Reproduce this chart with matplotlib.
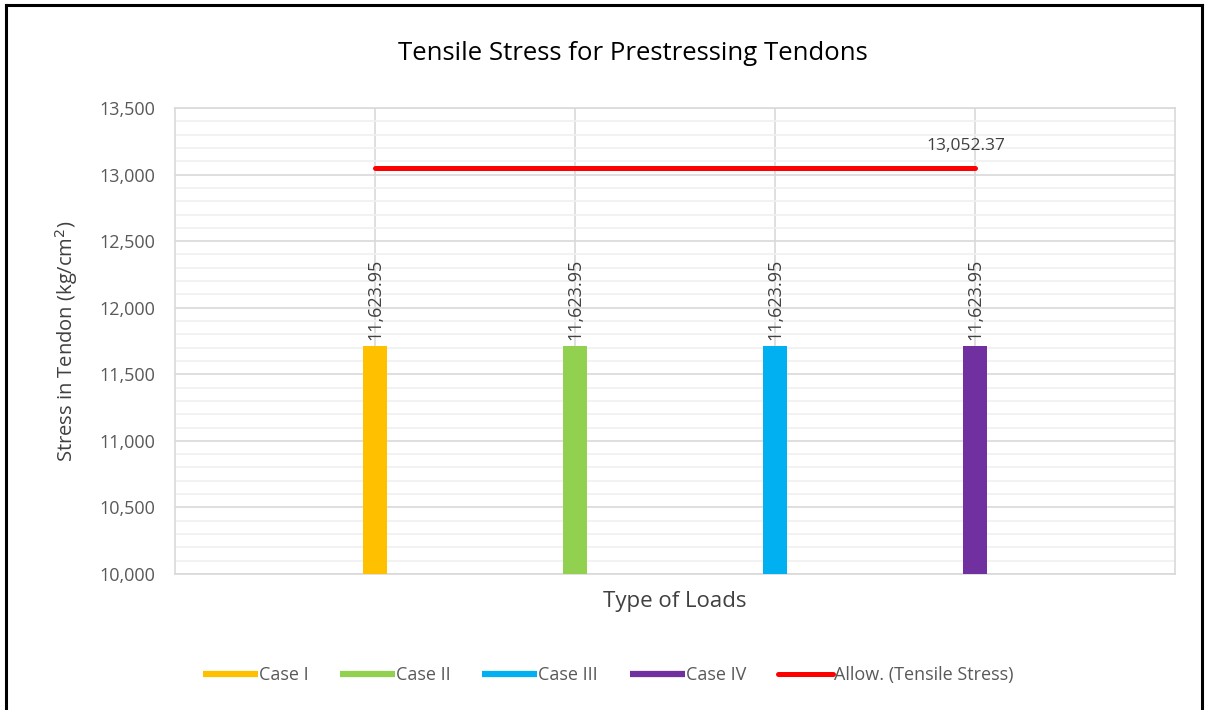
import matplotlib
matplotlib.use("Agg")
import matplotlib.pyplot as plt
from matplotlib.lines import Line2D
from matplotlib.ticker import MultipleLocator, FuncFormatter

plt.rcParams['font.family'] = ['Open Sans', 'DejaVu Sans']

cases = ['Case I', 'Case II', 'Case III', 'Case IV']
stress = [11715, 11715, 11715, 11715]
stress_labels = ['11,623.95', '11,623.95', '11,623.95', '11,623.95']
colors = ['#FFC000', '#92D050', '#00B0F0', '#7030A0']
allow = 13052.37
allow_label = '13,052.37'

W, H = 1205, 710
fig = plt.figure(figsize=(W / 100, H / 100), dpi=100)
ax = fig.add_axes([175 / W, 1 - 574 / H, 1000 / W, 466 / H])

x = list(range(1, len(cases) + 1))
for xi, v, lab, c, name in zip(x, stress, stress_labels, colors, cases):
    ax.bar(xi, v - 10000, bottom=10000, width=0.12, color=c, zorder=3, label=name)
    ax.text(xi, v + 40, lab, rotation=90, ha='center', va='bottom',
            fontsize=13, color='#404040', zorder=4)

ax.plot([x[0], x[-1]], [allow, allow], color='#FF0000', lw=3.6,
        solid_capstyle='round', zorder=4)
ax.text(x[-1] - 0.045, allow + 100, allow_label, ha='center', va='bottom',
        fontsize=12.5, color='#404040')

ax.set_xlim(0, 5)
ax.set_ylim(10000, 13500)
ax.set_xticks(x)
ax.tick_params(axis='x', length=0, labelbottom=False)
ax.tick_params(axis='y', length=0, labelsize=13, labelcolor='#595959', pad=14)
ax.yaxis.set_major_locator(MultipleLocator(500))
ax.yaxis.set_minor_locator(MultipleLocator(100))
ax.yaxis.set_major_formatter(FuncFormatter(lambda v, p: f'{v:,.0f}'))
ax.tick_params(axis='y', which='minor', length=0)
ax.grid(axis='y', which='major', color='#D9D9D9', lw=1.2, zorder=0)
ax.grid(axis='y', which='minor', color='#F0F0F0', lw=1.2, zorder=0)
ax.grid(axis='x', which='major', color='#D9D9D9', lw=1.2, zorder=0)
for s in ax.spines.values():
    s.set_color('#D9D9D9')
    s.set_linewidth(1.2)

ax.set_ylabel('Stress in Tendon (kg/cm$^2$)', fontsize=14.5, color='#404040', labelpad=14)
ax.set_xlabel('Type of Loads', fontsize=16, color='#404040', labelpad=12)
fig.text(0.525, 1 - 53 / H, 'Tensile Stress for Prestressing Tendons',
         ha='center', va='center', fontsize=18.5, color='#000000')

handles = [Line2D([], [], color=c, lw=4.5, solid_capstyle='butt') for c in colors]
handles.append(Line2D([], [], color='#FF0000', lw=3.6, solid_capstyle='round'))
names = cases + ['Allow. (Tensile Stress)']
fig.legend(handles, names, loc='center', bbox_to_anchor=(608 / W, 1 - 675 / H),
           ncol=5, frameon=False, fontsize=13, handlelength=3.05,
           handletextpad=0.05, columnspacing=1.75, labelcolor='#595959')

# outer frame (left, top, right)
lw = 2.2
fig.add_artist(Line2D([5.5 / W, 5.5 / W], [0, 1 - 4.5 / H], color='black', lw=lw,
                      transform=fig.transFigure))
fig.add_artist(Line2D([5.5 / W, 1 - 3.5 / W], [1 - 4.5 / H, 1 - 4.5 / H], color='black',
                      lw=lw, transform=fig.transFigure))
fig.add_artist(Line2D([1 - 3.5 / W, 1 - 3.5 / W], [0, 1 - 4.5 / H], color='black', lw=lw,
                      transform=fig.transFigure))

fig.savefig('out.png', dpi=100)
